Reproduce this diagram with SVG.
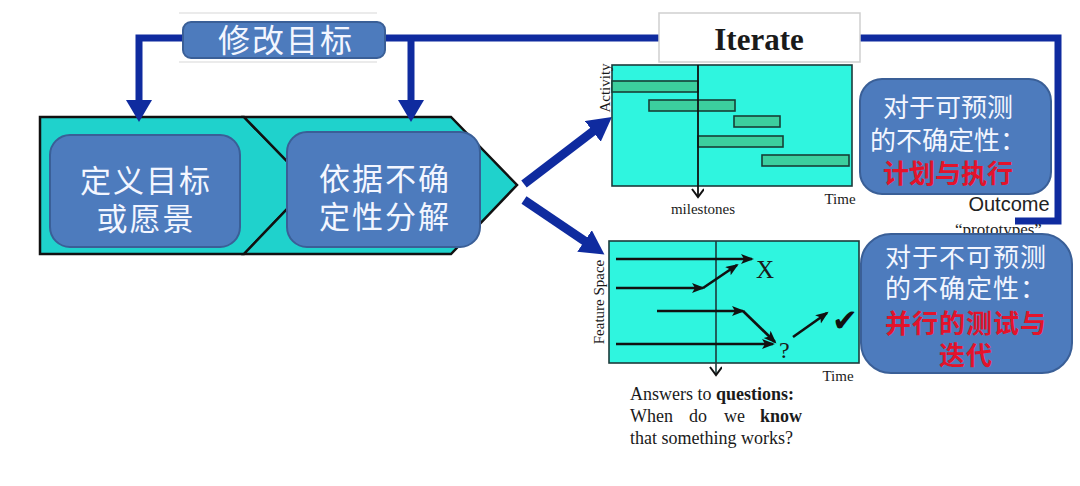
<svg xmlns="http://www.w3.org/2000/svg" width="1080" height="486" viewBox="0 0 1080 486">
<style>
.cjk{font-family:"Noto Sans CJK SC","Noto Sans",sans-serif;}
.wt{fill:#f3f6ff;}
.red{fill:#e3132b;font-weight:bold;}
.bbox{fill:#4d7bbd;stroke:#3a5f97;stroke-width:2;}
.chev{fill:#1fd2cc;stroke:#111;stroke-width:2.5;stroke-linejoin:miter;}
.chart{fill:#2ff5df;stroke:#1c3b3b;stroke-width:1.6;}
.bar{fill:#3ccf9e;stroke:#173f36;stroke-width:1.6;}
.serif{font-family:"Liberation Serif","Times New Roman",serif;fill:#1a1a1a;}
.blue{fill:none;stroke:#0f2b9f;stroke-linejoin:miter;}
.blk{fill:none;stroke:#111;stroke-width:2.6;}
</style>
<defs>
<marker id="ahDown" markerUnits="userSpaceOnUse" markerWidth="26" markerHeight="28" refX="7" refY="13" orient="auto">
<path d="M0,0 L22,13 L0,26 Z" fill="#0f2b9f"/>
</marker>
<marker id="ahBig" markerUnits="userSpaceOnUse" markerWidth="26" markerHeight="28" refX="9" refY="13" orient="auto">
<path d="M0,0 L24,13 L0,26 Z" fill="#0f2b9f"/>
</marker>
<marker id="ahBlk" markerUnits="userSpaceOnUse" markerWidth="14" markerHeight="12" refX="11" refY="5" orient="auto">
<path d="M0,0 L13,5 L0,10 L3,5 Z" fill="#111"/>
</marker>
<marker id="ahV" markerUnits="userSpaceOnUse" markerWidth="14" markerHeight="14" refX="9" refY="6" orient="auto">
<path d="M1,0 L9,6 L1,12" fill="none" stroke="#111" stroke-width="2"/>
</marker>
</defs>
<rect width="1080" height="486" fill="#ffffff"/>

<g id="process-chevrons">
<path class="chev" d="M40,117 H244 L310,185 L244,254 H40 Z"/>
<path class="chev" d="M244,117 H451 L517,185 L451,254 H244 L310,185 Z"/>
</g>

<g id="connectors">
<path class="blue" stroke-width="7" d="M1015,221 H1058 V38 H139 V107" marker-end="url(#ahDown)"/>
<path class="blue" stroke-width="7" d="M411,38 V107" marker-end="url(#ahDown)"/>
<path class="blue" stroke-width="9" d="M524,184 L600,126" marker-end="url(#ahBig)"/>
<path class="blue" stroke-width="9" d="M524,200 L592,246" marker-end="url(#ahBig)"/>
</g>

<g id="node-define-goal">
<rect class="bbox" x="50" y="135" width="190" height="112" rx="20"/>
<text class="cjk wt" font-size="31" letter-spacing="2" text-anchor="middle"><tspan x="146" y="192">定义目标</tspan><tspan x="146" y="230">或愿景</tspan></text>
</g>

<g id="node-decompose">
<rect class="bbox" x="287" y="132" width="193" height="115" rx="20"/>
<text class="cjk wt" font-size="31" letter-spacing="2" text-anchor="middle"><tspan x="385" y="190">依据不确</tspan><tspan x="385" y="228">定性分解</tspan></text>
</g>

<g id="node-modify-goal">
<line x1="179" y1="13" x2="377" y2="13" stroke="#e4e4e4" stroke-width="1.5"/>
<line x1="179" y1="62" x2="377" y2="62" stroke="#e4e4e4" stroke-width="1.5"/>
<rect class="bbox" x="183" y="22" width="202" height="36" rx="8"/>
<text class="cjk wt" x="286" y="52" font-size="32" letter-spacing="2" text-anchor="middle">修改目标</text>
</g>

<g id="node-iterate">
<rect x="659" y="13" width="201" height="49" fill="#ffffff" stroke="#cfcfcf" stroke-width="1.5"/>
<text class="serif" x="759" y="50" font-size="31" font-weight="bold" text-anchor="middle">Iterate</text>
</g>

<g id="node-outcome">
<text fill="#222"><tspan x="1009" y="211" font-family="Liberation Sans, Arial, sans-serif" font-size="20" text-anchor="middle">Outcome</tspan><tspan x="955" y="235" font-family="Liberation Serif, Times New Roman, serif" font-size="17">“prototypes”</tspan></text>
</g>

<g id="node-plan-chart">
<rect class="chart" x="612" y="65" width="240" height="121"/>
<rect class="bar" x="612" y="81" width="86" height="11"/>
<rect class="bar" x="649" y="100" width="86" height="11"/>
<rect class="bar" x="734" y="116" width="46" height="11"/>
<rect class="bar" x="698" y="136" width="85" height="11"/>
<rect class="bar" x="762" y="155" width="87" height="11"/>
<line x1="698" y1="65" x2="698" y2="197" stroke="#111" stroke-width="1.8" marker-end="url(#ahV)"/>
<text class="serif" transform="translate(610,88) rotate(-90)" font-size="15" text-anchor="middle">Activity</text>
<text class="serif" x="703" y="214" font-size="15" text-anchor="middle">milestones</text>
<text class="serif" x="840" y="204" font-size="15" text-anchor="middle">Time</text>
</g>

<g id="node-test-chart">
<rect class="chart" x="609" y="241" width="250" height="122"/>
<line x1="716" y1="241" x2="716" y2="375" stroke="#1c3b3b" stroke-width="1.6" marker-end="url(#ahV)"/>
<path class="blk" d="M616,259 H752" marker-end="url(#ahBlk)"/>
<path class="blk" d="M616,288 H703" marker-end="url(#ahBlk)"/>
<path class="blk" d="M703,288 L737,265" marker-end="url(#ahBlk)"/>
<path class="blk" d="M657,311 H743" marker-end="url(#ahBlk)"/>
<path class="blk" d="M743,311 L775,342" marker-end="url(#ahBlk)"/>
<path class="blk" d="M616,344 H773" marker-end="url(#ahBlk)"/>
<path class="blk" d="M793,337 L827,313" marker-end="url(#ahBlk)"/>
<text class="serif" x="756" y="278" font-size="25">X</text>
<text class="serif" x="779" y="358" font-size="24">?</text>
<text x="832" y="331" font-family="DejaVu Sans, sans-serif" font-size="31" font-weight="bold" fill="#111">✔</text>
<text class="serif" transform="translate(604,302) rotate(-90)" font-size="15" text-anchor="middle">Feature Space</text>
<text class="serif" x="838" y="381" font-size="15" text-anchor="middle">Time</text>
<text class="serif" font-size="18"><tspan x="630" y="400">Answers to </tspan><tspan font-weight="bold">questions:</tspan><tspan x="630" y="422">When</tspan><tspan x="689">do</tspan><tspan x="724">we</tspan><tspan x="760" font-weight="bold">know</tspan><tspan x="630" y="444">that something works?</tspan></text>
</g>

<g id="node-predictable">
<rect class="bbox" x="860" y="79" width="191" height="115" rx="22"/>
<text class="cjk wt" font-size="26" text-anchor="middle"><tspan x="948" y="117">对于可预测</tspan><tspan x="948" y="150">的不确定性：</tspan><tspan class="red" x="948" y="183">计划与执行</tspan></text>
</g>

<g id="node-unpredictable">
<rect class="bbox" x="861" y="234" width="211" height="139" rx="30"/>
<text class="cjk wt" font-size="26" letter-spacing="1" text-anchor="middle"><tspan x="966" y="267">对于不可预测</tspan><tspan x="966" y="298">的不确定性：</tspan><tspan class="red" x="966" y="333">并行的测试与</tspan><tspan class="red" x="966" y="365">迭代</tspan></text>
</g>
</svg>
